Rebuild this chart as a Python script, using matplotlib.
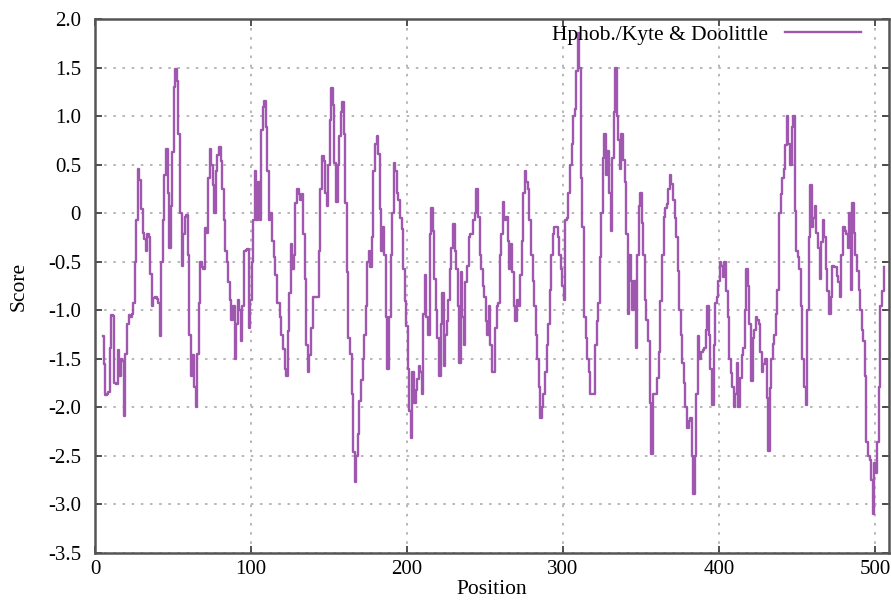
import numpy as np
import matplotlib.pyplot as plt

# Kyte & Doolittle hydrophobicity (position, score)
positions = list(range(5, 507))
scores = [
    -1.27, -1.55, -1.87, -1.86, -1.84, -1.39, -1.05, -1.06, -1.75, -1.76,   # 5-14
    -1.41, -1.68, -1.50, -1.52, -2.09, -1.45, -1.14, -1.05, -1.07, -1.04,   # 15-24
    -0.93, -0.50, -0.07, 0.45, 0.34, 0.04, -0.20, -0.27, -0.39, -0.21,      # 25-34
    -0.25, -0.63, -0.96, -0.87, -0.86, -0.88, -0.93, -1.27, -0.50, -0.07,   # 35-44
    0.39, 0.66, 0.21, -0.36, 0.07, 0.63, 1.30, 1.48, 1.36, 0.82,            # 45-54
    0.00, -0.54, -0.21, -0.04, -0.02, -0.43, -1.25, -1.68, -1.46, -1.79,    # 55-64
    -2.00, -1.45, -0.93, -0.50, -0.55, -0.57, -0.15, -0.20, 0.36, 0.66,     # 65-74
    0.50, 0.29, 0.00, 0.43, 0.60, 0.68, 0.54, 0.25, -0.07, -0.39,           # 75-84
    -0.50, -0.71, -0.89, -1.10, -0.96, -1.50, -1.14, -0.89, -1.00, -1.32,   # 85-94
    -0.96, -0.39, -0.38, -0.37, -1.18, -0.89, -0.50, -0.07, 0.43, -0.07,    # 95-104
    0.32, -0.07, 0.86, 1.09, 1.16, 0.89, 0.43, -0.07, 0.00, -0.29,          # 105-114
    -0.45, -0.64, -0.93, -0.93, -1.07, -1.25, -1.40, -1.61, -1.68, -1.21,   # 115-124
    -0.82, -0.32, -0.57, -0.43, 0.11, 0.25, 0.20, 0.14, 0.20, -0.21,        # 125-134
    -0.68, -1.36, -1.64, -1.46, -1.18, -0.86, -0.86, -0.86, -0.86, -0.39,   # 135-144
    0.25, 0.59, 0.54, 0.21, 0.07, 0.50, 0.96, 1.29, 1.11, 0.52,             # 145-154
    0.12, 0.50, 0.80, 1.04, 1.14, 0.82, 0.11, -0.61, -1.29, -1.45,          # 155-164
    -1.86, -2.46, -2.77, -2.50, -2.27, -1.93, -1.72, -1.50, -1.25, -0.96,   # 165-174
    -0.50, -0.39, -0.55, -0.25, 0.43, 0.71, 0.79, 0.61, 0.04, -0.39,        # 175-184
    -0.14, -0.43, -1.07, -1.61, -1.07, -0.43, 0.00, 0.52, 0.43, 0.21,       # 185-194
    0.14, -0.05, -0.16, -0.57, -0.90, -1.16, -1.60, -2.04, -2.32, -1.64,    # 195-204
    -1.96, -1.82, -1.71, -1.57, -1.64, -1.86, -1.04, -0.64, -1.07, -1.25,   # 205-214
    -0.21, 0.05, -0.18, -0.68, -1.00, -1.29, -1.68, -1.14, -0.82, -1.57,    # 215-224
    -1.25, -1.11, -0.89, -0.57, -0.36, -0.11, -0.39, -0.57, -0.96, -1.54,   # 225-234
    -0.61, -1.07, -1.36, -0.71, -0.54, -0.25, -0.21, -0.21, -0.07, 0.00,    # 235-244
    0.25, -0.04, -0.43, -0.57, -0.75, -0.86, -1.11, -1.25, -0.96, -1.36,    # 245-254
    -1.64, -1.64, -1.18, -0.96, -0.93, -0.43, -0.21, 0.12, -0.07, -0.04,    # 255-264
    -0.29, -0.57, -0.32, -0.61, -0.96, -1.11, -0.89, -0.96, -0.64, -0.29,   # 265-274
    0.21, 0.43, 0.32, 0.25, -0.07, -0.43, -0.70, -0.96, -1.25, -1.50,       # 275-284
    -1.79, -2.11, -2.00, -1.86, -1.64, -1.36, -1.14, -0.79, -0.43, -0.21,   # 285-294
    -0.14, -0.14, -0.25, -0.43, -0.57, -0.75, -0.89, -0.07, -0.05, 0.21,    # 295-304
    0.50, 0.71, 1.00, 1.07, 1.46, 1.86, 1.50, 0.36, -0.14, -1.07,           # 305-314
    -1.29, -1.50, -1.64, -1.86, -1.86, -1.86, -1.36, -1.11, -0.93, -0.45,   # 315-324
    0.00, 0.57, 0.82, 0.39, 0.64, 0.21, -0.18, 0.57, 1.04, 1.50,            # 325-334
    1.00, 0.75, 0.46, 0.82, 0.55, 0.32, -0.21, -1.04, -0.43, -0.70,         # 335-344
    -1.00, -0.70, -1.39, -0.43, 0.07, 0.21, -0.10, -0.43, -0.89, -1.10,     # 345-354
    -1.32, -1.96, -2.48, -1.86, -1.86, -1.86, -1.70, -1.43, -0.90, -0.43,   # 355-364
    -0.04, 0.05, 0.09, 0.25, 0.39, 0.30, 0.14, -0.05, -0.25, -0.60,         # 365-374
    -1.00, -1.25, -1.54, -1.75, -2.00, -2.21, -2.14, -2.11, -2.50, -2.89,   # 375-384
    -2.50, -1.86, -1.27, -1.50, -1.43, -1.41, -1.39, -1.20, -0.96, -1.25,   # 385-394
    -1.60, -1.98, -1.36, -0.93, -0.86, -0.70, -0.50, -0.54, -0.66, -0.50,   # 395-404
    -0.80, -1.07, -1.50, -1.65, -1.79, -2.00, -1.86, -1.54, -2.00, -1.70,   # 405-414
    -1.46, -1.39, -1.00, -0.57, -0.75, -1.14, -1.73, -1.29, -1.20, -1.07,   # 415-424
    -1.10, -1.14, -1.43, -1.64, -1.55, -1.50, -1.90, -2.45, -1.80, -1.50,   # 425-434
    -1.35, -1.25, -1.04, -0.79, 0.00, 0.20, 0.36, 0.46, 0.70, 1.00,         # 435-444
    0.71, 0.50, 0.89, 1.00, 0.02, -0.39, -0.45, -0.57, -0.96, -1.50,        # 445-454
    -1.79, -1.98, -1.00, -0.25, 0.29, -0.14, -0.05, 0.07, -0.20, -0.36,     # 455-464
    -0.68, -0.30, -0.07, -0.25, -0.57, -0.80, -1.04, -0.86, -0.54, -0.55,   # 465-474
    -0.55, -0.65, -0.71, -0.86, -0.43, -0.14, -0.18, -0.21, -0.36, 0.00,    # 475-484
    -0.79, 0.11, -0.20, -0.43, -0.60, -0.79, -1.00, -1.20, -1.32, -1.68,    # 485-494
    -2.36, -2.50, -2.54, -2.75, -3.10, -2.57, -2.68, -2.36, -1.79, -0.96,   # 495-504
    -0.80, -0.55,                                                           # 505-506
]

xticks = [0, 100, 200, 300, 400, 500]
yticks = [2.0, 1.5, 1.0, 0.5, 0, -0.5, -1.0, -1.5, -2.0, -2.5, -3.0, -3.5]
ylabels = ["2.0", "1.5", "1.0", "0.5", "0", "-0.5", "-1.0", "-1.5", "-2.0", "-2.5", "-3.0", "-3.5"]

plt.rcParams['font.family'] = ['Liberation Serif', 'DejaVu Serif']

fig = plt.figure(figsize=(8.91, 6.03), dpi=100)
ax = fig.add_axes([95 / 891, 1 - 553 / 603, 794 / 891, 534 / 603])

ax.step(positions, scores, where='mid', color='#a057b0', lw=1.7,
        label='Hphob./Kyte & Doolittle')

ax.set_xlim(0, 509)
ax.set_ylim(-3.5, 2.0)
ax.set_xticks(xticks)
ax.set_yticks(yticks)
ax.set_yticklabels(ylabels)
ax.tick_params(direction='in', top=True, right=True, length=5, labelsize=15,
               color='#333333', width=1.2)
ax.tick_params(axis='y', pad=10)
ax.tick_params(axis='x', pad=5)
ax.grid(True, color='#aaaaaa', linestyle=(0, (1.5, 4)), lw=1.2)
for s in ax.spines.values():
    s.set_color('#555555')
    s.set_linewidth(1.8)

ax.set_xlabel('Position', fontsize=15.5, labelpad=1)
ax.set_ylabel('Score', fontsize=15.5, labelpad=14)

ax.legend(loc='upper right', frameon=False, markerfirst=False, fontsize=15.5,
          handlelength=3.5, borderaxespad=0.0, bbox_to_anchor=(0.975, 1.005))

fig.savefig('out.png', dpi=100)
